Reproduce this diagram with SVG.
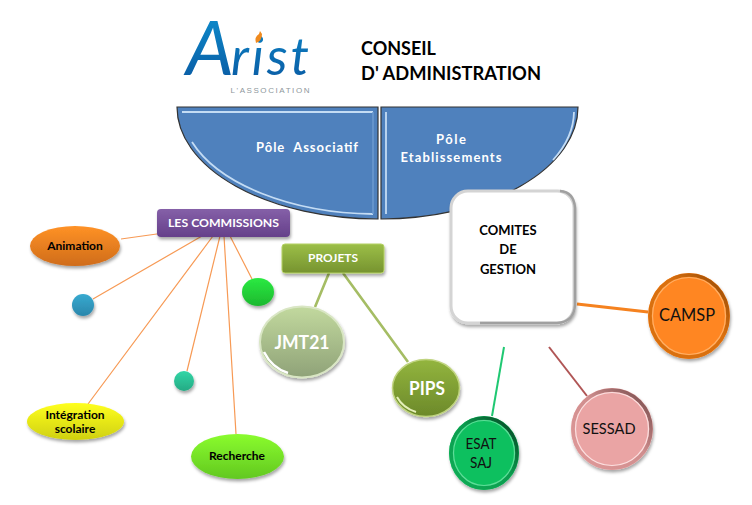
<svg xmlns="http://www.w3.org/2000/svg" width="752" height="505" viewBox="0 0 752 505">
<style>
text{font-family:"Lato","Open Sans","Liberation Sans",sans-serif;text-anchor:middle}
.k{fill:#000;font-size:12px;font-weight:700}
.w{fill:#fff;font-weight:700}
.c{fill:#111;font-size:18px}
.l{fill:none;stroke:#f79a55;stroke-width:1.2}
.h{fill:none;stroke:#c4dcf4;stroke-width:1.8}
.g{fill:none;stroke-width:1.2}
</style>
<defs>
<filter id="s" x="-20%" y="-20%" width="140%" height="150%"><feDropShadow dx="1" dy="2.5" stdDeviation="1.6" flood-color="#000" flood-opacity=".35"/></filter>
<linearGradient id="logo" gradientUnits="userSpaceOnUse" x1="0" y1="12" x2="0" y2="100"><stop offset="0" stop-color="#0c8ccc"/><stop offset="1" stop-color="#0a4f9a"/></linearGradient>
<linearGradient id="gOr" x1="0" y1="0" x2="0" y2="1"><stop offset="0" stop-color="#ff9226"/><stop offset="1" stop-color="#cf6c1a"/></linearGradient>
<linearGradient id="gBl" x1="0" y1="0" x2="0" y2="1"><stop offset="0" stop-color="#38aad0"/><stop offset="1" stop-color="#2a86ab"/></linearGradient>
<linearGradient id="gGr" x1="0" y1="0" x2="0" y2="1"><stop offset="0" stop-color="#2bea42"/><stop offset="1" stop-color="#1cb82e"/></linearGradient>
<linearGradient id="gTe" x1="0" y1="0" x2="0" y2="1"><stop offset="0" stop-color="#33d6a6"/><stop offset="1" stop-color="#25aa84"/></linearGradient>
<linearGradient id="gYe" x1="0" y1="0" x2="0" y2="1"><stop offset="0" stop-color="#ffff1e"/><stop offset="1" stop-color="#cfd010"/></linearGradient>
<linearGradient id="gLi" x1="0" y1="0" x2="0" y2="1"><stop offset="0" stop-color="#8afc2e"/><stop offset="1" stop-color="#62c820"/></linearGradient>
<linearGradient id="gPu" x1="0" y1="0" x2="0" y2="1"><stop offset="0" stop-color="#8560a8"/><stop offset="1" stop-color="#65408a"/></linearGradient>
<linearGradient id="gOl" x1="0" y1="0" x2="0" y2="1"><stop offset="0" stop-color="#9cbf48"/><stop offset="1" stop-color="#76932f"/></linearGradient>
<linearGradient id="gJm" x1="0" y1="0" x2="0" y2="1"><stop offset="0" stop-color="#c2d99e"/><stop offset="1" stop-color="#8fa278"/></linearGradient>
<linearGradient id="gPi" x1="0" y1="0" x2="0" y2="1"><stop offset="0" stop-color="#93b53e"/><stop offset="1" stop-color="#6c892a"/></linearGradient>
<linearGradient id="rOr" x1="0" y1="1" x2="1" y2="0"><stop offset="0" stop-color="#d9700f"/><stop offset=".6" stop-color="#d9700f"/><stop offset="1" stop-color="#8f4604"/></linearGradient>
<linearGradient id="rGr" x1="0" y1="1" x2="1" y2="0"><stop offset="0" stop-color="#0fae57"/><stop offset=".55" stop-color="#0c9a4e"/><stop offset="1" stop-color="#063c20"/></linearGradient>
<linearGradient id="rPk" x1="0" y1="1" x2="1" y2="0"><stop offset="0" stop-color="#e09a9a"/><stop offset=".55" stop-color="#cf8e8e"/><stop offset="1" stop-color="#6d4646"/></linearGradient>
</defs>
<rect width="752" height="505" fill="#fff"/>

<g id="logo">
<text x="186" y="75" style="font-style:italic;text-anchor:start" fill="url(#logo)"><tspan style="font-size:76px">A</tspan><tspan style="font-size:52px;letter-spacing:3px" dx="-3">rist</tspan></text>
<path d="M256 43q-2-6 3-9l1-3 2 3q0 7-6 9z" fill="#f08a1e"/>
<text x="270" y="93" style="font-family:'Liberation Sans',sans-serif;font-size:8px" textLength="79" fill="#8e979c">L'ASSOCIATION</text>
</g>
<g id="title">
<text x="361" y="55" style="text-anchor:start;font-size:18px;font-weight:700" fill="#000">CONSEIL</text>
<text x="361" y="80" style="text-anchor:start;font-size:18px;font-weight:700" textLength="180" lengthAdjust="spacingAndGlyphs" fill="#000">D' ADMINISTRATION</text>
</g>

<g id="connectors" fill="none">
<path class="l" d="M121 239L171 232M93 299L202 236M88 404L213 236M187 371L220 236M236 434L224 236M252 279L230 236"/>
<path d="M315 307L329 273M408 362L343 273" stroke="#a5bd64" stroke-width="2.6"/>
<path d="M492 416L504 347" stroke="#1fc872" stroke-width="2"/>
<path d="M587 396L549 347" stroke="#b05555" stroke-width="2"/>
<path d="M577 304L648 312" stroke="#f5821f" stroke-width="3"/>
</g>

<g id="pole-associatif">
<path d="M177 107H378V219A201 112 0 0 1 177 107Z" fill="#4f81bd" stroke="#333" stroke-width="1.2"/>
<path class="h" d="M182 112H373"/>
<path class="h" d="M373 214A196 107 0 0 1 192 142" stroke-width="1.500"/>
<path d="M373 112V214" fill="none" stroke="#6d9bd0" stroke-width="1.500"/>
<text x="307" y="152" class="w" style="font-size:13px" textLength="102" xml:space="preserve">Pôle  Associatif</text>
</g>
<g id="pole-etablissements">
<path d="M381 107H578A197 112 0 0 1 381 219Z" fill="#4f81bd" stroke="#333" stroke-width="1.2"/>
<path class="h" d="M386 112V214"/>
<path class="h" d="M574 112A193 108 0 0 1 553 160"/>
<text x="451" y="144" class="w" style="font-size:13px" textLength="30">Pôle</text>
<text x="451" y="162" class="w" style="font-size:13px" textLength="101">Etablissements</text>
</g>
<g id="comites">
<rect x="451" y="191" width="123" height="132" rx="17" fill="#fff" stroke="#d4d4d4" stroke-width="3" filter="url(#s)"/>
<path d="M560 191Q574 192 575 208V305Q574 322 557 323H480" fill="none" stroke="#a0a0a0" stroke-width="2.500"/>
<text x="508" y="235" class="k" style="font-size:13px">COMITES</text>
<text x="508" y="254" class="k" style="font-size:13px">DE</text>
<text x="508" y="274" class="k" style="font-size:13px">GESTION</text>
</g>

<g id="commissions">
<rect x="157" y="209" width="133" height="28" rx="4" fill="url(#gPu)" filter="url(#s)"/>
<text x="223.500" y="227" class="w" style="font-size:12px" textLength="111" lengthAdjust="spacingAndGlyphs">LES COMMISSIONS</text>
</g>
<g id="animation">
<ellipse cx="75" cy="246" rx="45" ry="20" fill="url(#gOr)" filter="url(#s)"/>
<text x="75" y="250" class="k">Animation</text>
</g>
<g id="blue-dot"><circle cx="83" cy="305" r="11" fill="url(#gBl)" filter="url(#s)"/></g>
<g id="green-dot"><ellipse cx="258" cy="292" rx="16" ry="14" fill="url(#gGr)" filter="url(#s)"/></g>
<g id="teal-dot"><circle cx="184" cy="381" r="10" fill="url(#gTe)" filter="url(#s)"/></g>
<g id="integration">
<ellipse cx="75.500" cy="421.500" rx="48.500" ry="18.500" fill="url(#gYe)" filter="url(#s)"/>
<text x="75" y="419" class="k">Intégration</text>
<text x="75" y="433" class="k">scolaire</text>
</g>
<g id="recherche">
<ellipse cx="237.500" cy="456.500" rx="46.500" ry="22.500" fill="url(#gLi)" filter="url(#s)"/>
<text x="237" y="460" class="k">Recherche</text>
</g>

<g id="projets">
<rect x="282" y="244" width="102" height="29" rx="3" fill="url(#gOl)" stroke="#b5d165" stroke-width="1" filter="url(#s)"/>
<text x="333" y="262" class="w" style="font-size:12px" textLength="50" lengthAdjust="spacingAndGlyphs">PROJETS</text>
</g>
<g id="jmt21">
<ellipse cx="302" cy="342" rx="42" ry="35.500" fill="url(#gJm)" stroke="#d9e6c4" stroke-width="2" filter="url(#s)"/>
<path d="M264 352Q272 368 288 373" fill="none" stroke="#fff" stroke-width="2.500"/>
<text x="302" y="349" class="w" style="font-size:19px" textLength="55" lengthAdjust="spacingAndGlyphs">JMT21</text>
</g>
<g id="pips">
<ellipse cx="426" cy="388" rx="33.500" ry="28.500" fill="url(#gPi)" stroke="#c0d480" stroke-width="1.500" filter="url(#s)"/>
<path d="M397 397Q403 408 416 412" fill="none" stroke="#e4efb8" stroke-width="2"/>
<text x="427" y="395" class="w" style="font-size:19px" textLength="36" lengthAdjust="spacingAndGlyphs">PIPS</text>
</g>
<g id="esat">
<ellipse cx="484" cy="453" rx="35" ry="37" fill="#11c05f" filter="url(#s)"/>
<ellipse cx="484" cy="453" rx="33" ry="35" fill="none" stroke="url(#rGr)" stroke-width="3.500"/>
<ellipse cx="484" cy="453" rx="30.500" ry="32.500" class="g" stroke="#5fdc98"/>
<text x="481" y="449" class="c" style="font-size:15px" textLength="31" lengthAdjust="spacingAndGlyphs">ESAT</text>
<text x="481" y="468" class="c" style="font-size:15px" textLength="22" lengthAdjust="spacingAndGlyphs">SAJ</text>
</g>
<g id="sessad">
<circle cx="612" cy="429" r="41" fill="#eaa4a4" filter="url(#s)"/>
<circle cx="612" cy="429" r="39" fill="none" stroke="url(#rPk)" stroke-width="3.500"/>
<circle cx="612" cy="429" r="36.500" class="g" stroke="#fbe0e0"/>
<text x="609" y="434" class="c" style="font-size:16px" textLength="53" lengthAdjust="spacingAndGlyphs">SESSAD</text>
</g>
<g id="camsp">
<ellipse cx="689" cy="316" rx="41" ry="43" fill="#ff8621" filter="url(#s)"/>
<ellipse cx="689" cy="316" rx="39" ry="41" fill="none" stroke="url(#rOr)" stroke-width="3.500"/>
<ellipse cx="689" cy="316" rx="36.500" ry="38.500" class="g" stroke="#ffb066"/>
<text x="687" y="321" class="c" style="font-size:17px" textLength="56" lengthAdjust="spacingAndGlyphs">CAMSP</text>
</g>
</svg>
